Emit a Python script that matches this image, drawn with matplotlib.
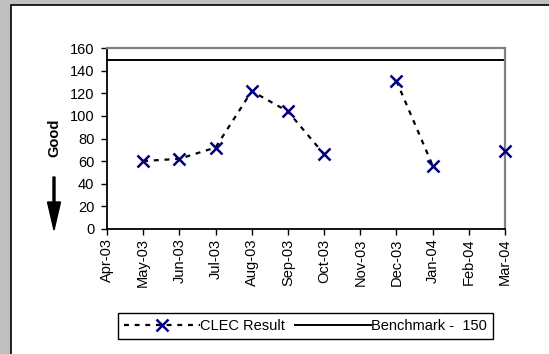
import numpy as np
import matplotlib
matplotlib.use("Agg")
import matplotlib.pyplot as plt
from matplotlib.patches import Rectangle, FancyArrow

plt.rcParams['font.family'] = ['Liberation Sans', 'DejaVu Sans']

months = ['Apr-03', 'May-03', 'Jun-03', 'Jul-03', 'Aug-03', 'Sep-03',
          'Oct-03', 'Nov-03', 'Dec-03', 'Jan-04', 'Feb-04', 'Mar-04']
clec = [np.nan, 60, 62, 72, 122, 104, 66, np.nan, 131, 56, np.nan, 69]
benchmark = 150

W, H = 549, 354
fig = plt.figure(figsize=(W / 100, H / 100), dpi=100)
fig.patch.set_facecolor('#c0c0c0')
fig.patches.append(Rectangle((11 / W, -0.05), 1.0, 1 - 5 / H + 0.05,
                             transform=fig.transFigure, facecolor='white',
                             edgecolor='black', linewidth=1.2, zorder=-5))

ax = fig.add_axes([107 / W, 1 - 228.7 / H, (505 - 107) / W, (228.7 - 48.3) / H])
ax.set_facecolor('white')
x = np.arange(len(months))
ax.plot(x, clec, linestyle=(0, (2.2, 2.6)), color='black', linewidth=1.6,
        marker='x', markersize=8, markeredgewidth=1.8, markeredgecolor='#000080',
        label='CLEC Result', clip_on=False, zorder=3)
ax.plot(x, [benchmark] * len(x), color='black', linewidth=1.4,
        label='Benchmark -  150', zorder=2)

ax.set_xlim(0, len(months) - 1)
ax.set_ylim(0, 160)
ax.set_yticks(range(0, 161, 20))
ax.set_xticks(x)
ax.set_xticklabels(months, rotation=90)
ax.tick_params(labelsize=10.5, length=4, width=1, color='black')
ax.tick_params(axis='y', pad=5)
ax.tick_params(axis='x', pad=3)

for s in ['top', 'right']:
    ax.spines[s].set_color('#808080')
    ax.spines[s].set_linewidth(1.6)
for s in ['left', 'bottom']:
    ax.spines[s].set_color('black')
    ax.spines[s].set_linewidth(1.3)

fig.text(54 / W, 1 - 138 / H, 'Good', rotation=90, fontsize=10.5,
         fontweight='bold', ha='center', va='center')
fig.patches.append(FancyArrow(
    54 / W, 1 - 177 / H, 0, -(230 - 177 - 28) / H, width=2 / W,
    head_width=13 / W, head_length=28 / H, length_includes_head=False,
    transform=fig.transFigure, color='black'))

leg = fig.legend(loc='center', bbox_to_anchor=(0.5565, 1 - 326 / H), ncol=2,
                 fontsize=10.5, handlelength=5.2, columnspacing=0.7,
                 handletextpad=0.0, fancybox=False, framealpha=1,
                 edgecolor='black', borderpad=0.4)
leg.get_frame().set_linewidth(1.0)

fig.savefig('out.png', dpi=100, facecolor=fig.get_facecolor())
